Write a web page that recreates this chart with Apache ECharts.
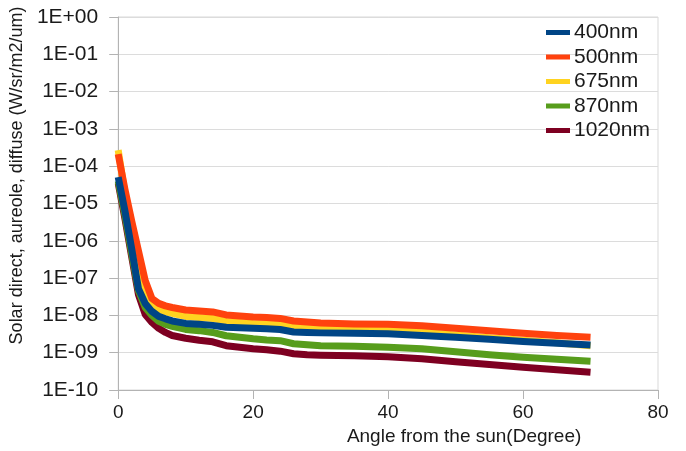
<!DOCTYPE html>
<html>
<head>
<meta charset="utf-8">
<title>Solar direct, aureole, diffuse radiance</title>
<script src="https://cdn.jsdelivr.net/npm/echarts@6/dist/echarts.min.js"></script>
<style>
  html, body { margin: 0; padding: 0; background: #ffffff; }
  #chart { width: 686px; height: 451px; }
</style>
</head>
<body>
<div id="chart"></div>
<script>
// Scattering angle from the sun (degrees)
const angles = [0, 1, 2, 3, 4, 5, 6, 7, 8, 10, 12, 14, 16, 18, 20, 22, 24, 26, 28, 30, 35, 40, 45, 50, 55, 60, 65, 70];

// Radiance per wavelength (W/sr/m2/um)
const r400 = [5.1e-5, 6.3e-6, 6.1e-7, 5.2e-8, 2.1e-8, 1.28e-8, 9.4e-9, 8.1e-9, 7.1e-9, 6.1e-9, 5.75e-9, 5.4e-9, 4.8e-9, 4.65e-9, 4.5e-9, 4.4e-9, 4.2e-9, 3.6e-9, 3.5e-9, 3.4e-9, 3.3e-9, 3.2e-9, 2.9e-9, 2.6e-9, 2.3e-9, 2.0e-9, 1.8e-9, 1.6e-9];
const r500 = [2.1e-4, 2.4e-5, 3.4e-6, 5.4e-7, 8.6e-8, 2.84e-8, 2.1e-8, 1.8e-8, 1.63e-8, 1.4e-8, 1.32e-8, 1.24e-8, 1.03e-8, 9.7e-9, 9.1e-9, 8.8e-9, 8.3e-9, 7.1e-9, 6.7e-9, 6.3e-9, 5.9e-9, 5.75e-9, 5.25e-9, 4.5e-9, 3.9e-9, 3.3e-9, 2.9e-9, 2.6e-9];
const r675 = [2.7e-4, 1.8e-5, 2.1e-6, 2.9e-7, 4.6e-8, 1.96e-8, 1.45e-8, 1.24e-8, 1.13e-8, 9.4e-9, 8.8e-9, 8.3e-9, 6.9e-9, 6.5e-9, 6.1e-9, 5.9e-9, 5.6e-9, 4.8e-9, 4.65e-9, 4.5e-9, 4.2e-9, 4.0e-9, 3.6e-9, 3.0e-9, 2.5e-9, 2.15e-9, 1.85e-9, 1.54e-9];
const r870 = [4.0e-5, 4.9e-6, 4.5e-7, 4.6e-8, 1.63e-8, 1.0e-8, 6.9e-9, 5.75e-9, 5.1e-9, 4.2e-9, 3.9e-9, 3.5e-9, 2.85e-9, 2.6e-9, 2.36e-9, 2.2e-9, 2.1e-9, 1.74e-9, 1.63e-9, 1.54e-9, 1.5e-9, 1.4e-9, 1.28e-9, 1.06e-9, 8.8e-10, 7.6e-10, 6.7e-10, 5.9e-10];
const r1020 = [3.5e-5, 3.9e-6, 3.7e-7, 3.6e-8, 1.06e-8, 6.5e-9, 4.5e-9, 3.5e-9, 2.9e-9, 2.44e-9, 2.15e-9, 1.96e-9, 1.54e-9, 1.4e-9, 1.28e-9, 1.2e-9, 1.1e-9, 9.4e-10, 8.8e-10, 8.6e-10, 8.3e-10, 7.8e-10, 6.9e-10, 5.75e-10, 4.8e-10, 4.1e-10, 3.5e-10, 3.0e-10];

const seriesNames = ['400nm', '500nm', '675nm', '870nm', '1020nm'];
const seriesColors = ['#004586', '#ff420e', '#ffd320', '#579d1c', '#7e0021'];
const seriesValues = [r400, r500, r675, r870, r1020];

// Decade tick labels, from 1E-10 up to 1E+00
const yTickLabels = ['1E-10', '1E-09', '1E-08', '1E-07', '1E-06', '1E-05', '1E-04', '1E-03', '1E-02', '1E-01', '1E+00'];
const xTickLabels = ['0', '20', '40', '60', '80'];

const FONT = "'Liberation Sans', Arial, sans-serif";

const chart = echarts.init(document.getElementById('chart'), null, { renderer: 'canvas' });

const series = seriesNames.map((name, i) => ({
  name: name,
  type: 'line',
  data: angles.map((a, k) => [a, seriesValues[i][k]]),
  showSymbol: false,
  symbol: 'none',
  clip: false,
  z: 10 - i,
  color: seriesColors[i],
  lineStyle: { width: 7, color: seriesColors[i], cap: 'butt', join: 'round' },
  emphasis: { disabled: true },
  animation: false
}));

chart.setOption({
  animation: false,
  backgroundColor: '#ffffff',
  textStyle: { fontFamily: FONT },
  grid: {
    left: 117, right: 28, top: 17, bottom: 59,
    show: true, borderColor: '#d9d9d9', borderWidth: 1
  },
  legend: {
    orient: 'vertical',
    left: 541, top: 17,
    icon: 'rect',
    itemWidth: 24, itemHeight: 5,
    itemGap: 3.5,
    data: seriesNames,
    textStyle: { fontSize: 21, color: '#1a1a1a', fontFamily: FONT, padding: [0, 0, 0, -1] }
  },
  xAxis: {
    type: 'value',
    min: 0, max: 80, interval: 20,
    name: 'Angle from the sun(Degree)',
    nameLocation: 'middle',
    nameGap: 37,
    nameTextStyle: { fontSize: 19, color: '#1a1a1a', fontFamily: FONT, padding: [0, 0, 0, 152] },
    axisLine: { show: true, lineStyle: { color: '#b3b3b3', width: 1 } },
    axisTick: { show: true, inside: false, length: 9, lineStyle: { color: '#b3b3b3' } },
    axisLabel: {
      margin: 13, fontSize: 19, color: '#1a1a1a', fontFamily: FONT,
      formatter: v => xTickLabels[Math.round(v / 20)]
    },
    splitLine: { show: false }
  },
  yAxis: {
    type: 'log',
    logBase: 10,
    min: 1e-10, max: 1, interval: 1,
    name: 'Solar direct, aureole, diffuse (W/sr/m2/um)',
    nameLocation: 'middle',
    nameGap: 86,
    nameTextStyle: { fontSize: 18, color: '#1a1a1a', fontFamily: FONT, padding: [0, 0, 0, 56] },
    axisLine: { show: true, lineStyle: { color: '#b3b3b3', width: 1 } },
    axisTick: { show: true, inside: false, length: 9, lineStyle: { color: '#b3b3b3' } },
    axisLabel: {
      margin: 20, fontSize: 21, color: '#1a1a1a', fontFamily: FONT,
      formatter: v => yTickLabels[Math.round(Math.log10(v)) + 10]
    },
    splitLine: { show: true, lineStyle: { color: '#dcdcdc', width: 1 } }
  },
  series: series
});
</script>
</body>
</html>
